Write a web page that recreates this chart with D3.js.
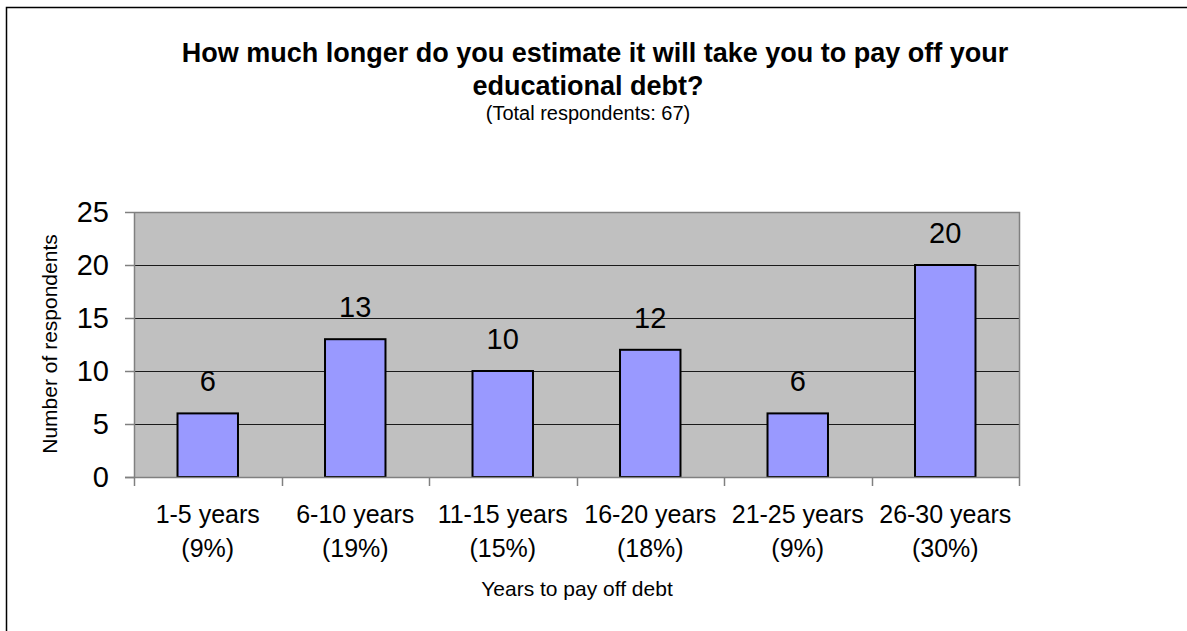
<!DOCTYPE html>
<html>
<head>
<meta charset="utf-8">
<script src="https://cdn.jsdelivr.net/npm/d3@7"></script>
<style>
  html, body { margin: 0; padding: 0; background: #fff; }
  svg { display: block; font-family: "Liberation Sans", Arial, sans-serif; }
</style>
</head>
<body>
<svg id="chart" width="1187" height="631"></svg>
<script>
// Years-to-payoff categories (two-line tick labels) and respondent counts
const categories = ["1-5 years", "6-10 years", "11-15 years", "16-20 years", "21-25 years", "26-30 years"];
const shares = ["(9%)", "(19%)", "(15%)", "(18%)", "(9%)", "(30%)"];
const counts = [6, 13, 10, 12, 6, 20];
const yTicks = [0, 5, 10, 15, 20, 25];

const titleLines = ["How much longer do you estimate it will take you to pay off your", "educational debt?"];
const subtitle = "(Total respondents: 67)";
const xTitle = "Years to pay off debt";
const yTitle = "Number of respondents";

const svg = d3.select("#chart");
const plot = { left: 134, right: 1019, top: 212, bottom: 477 };

// outer frame of the chart area
svg.append("rect")
  .attr("x", 6.5).attr("y", 7.5)
  .attr("width", 1300).attr("height", 700)
  .attr("fill", "#fff").attr("stroke", "#000").attr("stroke-width", 1.5);

const x = d3.scaleBand().domain(categories).range([plot.left, plot.right]).paddingInner(0).paddingOuter(0);
const y = d3.scaleLinear().domain([0, 25]).range([plot.bottom, plot.top]);

// plot background
svg.append("rect")
  .attr("x", plot.left).attr("y", plot.top)
  .attr("width", plot.right - plot.left).attr("height", plot.bottom - plot.top)
  .attr("fill", "#c0c0c0");

// horizontal gridlines
svg.append("g").selectAll("line")
  .data(yTicks.filter(d => d > 0 && d < 25))
  .join("line")
  .attr("x1", plot.left).attr("x2", plot.right)
  .attr("y1", d => Math.round(y(d)) + 0.5).attr("y2", d => Math.round(y(d)) + 0.5)
  .attr("stroke", "#1a1a1a").attr("stroke-width", 1);

// plot border (top and right)
svg.append("path")
  .attr("d", `M${plot.left},${plot.top + 0.5}H${plot.right + 0.5}V${plot.bottom}`)
  .attr("fill", "none").attr("stroke", "#808080").attr("stroke-width", 1.5);

// bars
const barW = x.bandwidth() * 0.41;
svg.append("g").selectAll("rect")
  .data(counts)
  .join("rect")
  .attr("x", (d, i) => x(categories[i]) + (x.bandwidth() - barW) / 2)
  .attr("y", d => y(d))
  .attr("width", barW)
  .attr("height", d => y(0) - y(d))
  .attr("fill", "#9999ff")
  .attr("stroke", "#000").attr("stroke-width", 2);

// value labels
svg.append("g").selectAll("text")
  .data(counts)
  .join("text")
  .attr("x", (d, i) => x(categories[i]) + x.bandwidth() / 2)
  .attr("y", d => y(d) - 22)
  .attr("text-anchor", "middle")
  .attr("font-size", 29)
  .attr("fill", "#000")
  .text(d => d);

// y axis
const yAxis = svg.append("g")
  .attr("transform", `translate(${plot.left},0)`)
  .call(d3.axisLeft(y).tickValues(yTicks).tickSize(9).tickPadding(16).tickSizeOuter(0));
yAxis.select(".domain").attr("stroke", "#808080").attr("stroke-width", 1.5);
yAxis.selectAll(".tick line").attr("stroke", "#808080").attr("stroke-width", 1.5);
yAxis.selectAll(".tick text")
  .attr("font-size", 29).attr("fill", "#000")
  .attr("font-family", "Liberation Sans, Arial, sans-serif");

// x axis: ticks at category boundaries
const xAxisG = svg.append("g");
xAxisG.append("line")
  .attr("x1", plot.left - 9).attr("x2", plot.right + 0.5)
  .attr("y1", plot.bottom + 0.5).attr("y2", plot.bottom + 0.5)
  .attr("stroke", "#808080").attr("stroke-width", 1.5);
const bounds = categories.map(c => x(c)).concat([x.range()[1]]);
xAxisG.selectAll("line.tick")
  .data(bounds)
  .join("line")
  .attr("class", "tick")
  .attr("x1", d => Math.round(d) + 0.5).attr("x2", d => Math.round(d) + 0.5)
  .attr("y1", plot.bottom).attr("y2", plot.bottom + 9)
  .attr("stroke", "#808080").attr("stroke-width", 1.5);

const xLabels = xAxisG.selectAll("text.cat")
  .data(categories)
  .join("text")
  .attr("class", "cat")
  .attr("text-anchor", "middle")
  .attr("font-size", 25)
  .attr("fill", "#000");
xLabels.append("tspan")
  .attr("x", d => x(d) + x.bandwidth() / 2)
  .attr("y", 523)
  .text(d => d);
xLabels.append("tspan")
  .attr("x", d => x(d) + x.bandwidth() / 2)
  .attr("y", 557)
  .text((d, i) => shares[i]);

// axis titles
svg.append("text")
  .attr("x", 577).attr("y", 596)
  .attr("text-anchor", "middle").attr("font-size", 21)
  .text(xTitle);

svg.append("text")
  .attr("transform", `translate(57,344) rotate(-90)`)
  .attr("text-anchor", "middle").attr("font-size", 21)
  .text(yTitle);

// title block
svg.append("text")
  .attr("x", 595).attr("y", 62)
  .attr("text-anchor", "middle").attr("font-size", 27).attr("font-weight", "bold")
  .text(titleLines[0]);
svg.append("text")
  .attr("x", 588).attr("y", 95)
  .attr("text-anchor", "middle").attr("font-size", 27).attr("font-weight", "bold")
  .text(titleLines[1]);
svg.append("text")
  .attr("x", 588).attr("y", 120)
  .attr("text-anchor", "middle").attr("font-size", 20)
  .text(subtitle);
</script>
</body>
</html>
